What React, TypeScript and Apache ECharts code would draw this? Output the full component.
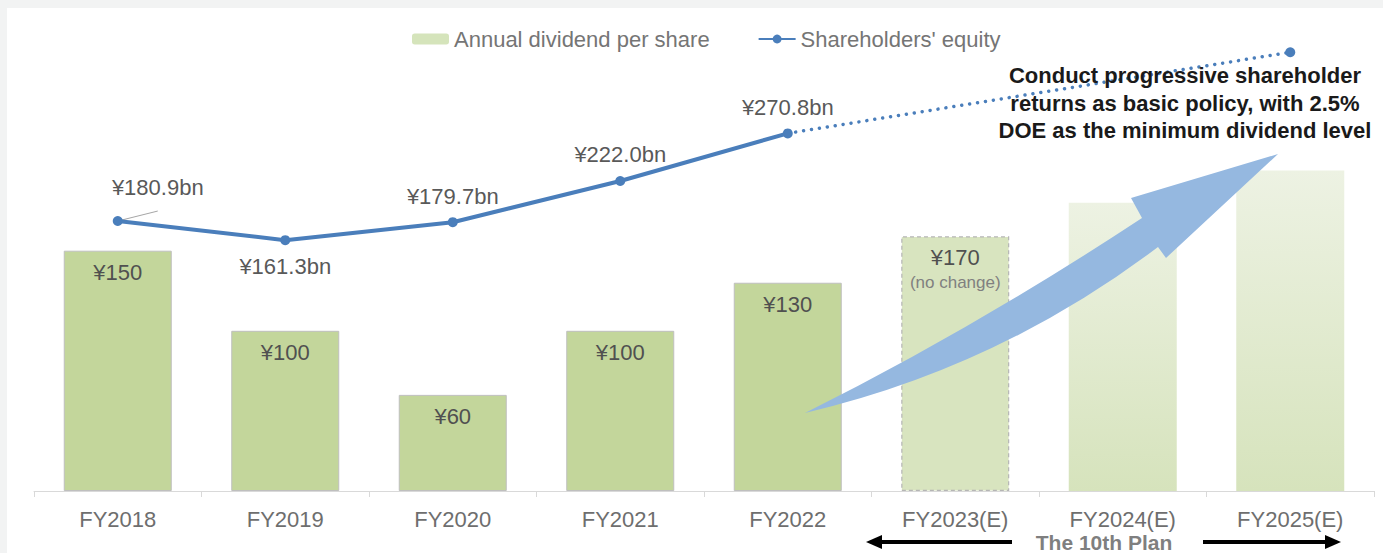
import React, { useEffect, useRef } from "react";
import * as echarts from "echarts";

// ---- data ----
const categories = ["FY2018", "FY2019", "FY2020", "FY2021", "FY2022", "FY2023(E)", "FY2024(E)", "FY2025(E)"];
// annual dividend per share (yen), as labelled
const dividendPerShare = [150, 100, 60, 100, 130, 170];
// bar heights as drawn in the picture (forecast bars are illustrative)
const dividendBarHeights = [150, 100, 60, 100, 130, 159, 180, 200];
// shareholders' equity (billion yen)
const equity = [180.9, 161.3, 179.7, 222.0, 270.8];
const equityLabelPos = ["top", "bottom", "top", "top", "top"];
// dotted target line: from FY2022 actual to FY2025 target point
const equityTarget = [null, null, null, null, 270.8, null, null, 354];

const FONT = '"Liberation Sans", Arial, Helvetica, sans-serif';

const arrowPath =
  "M 805 413 Q 972 330 1142 218 L 1131 198 L 1278 154 L 1166 258 L 1158 247 Q 998 368 805 413 Z";

export default function App() {
  const ref = useRef<HTMLDivElement>(null);

  useEffect(() => {
    if (!ref.current) return;
    echarts.graphic.registerShape("bigArrow", echarts.graphic.extendPath(arrowPath, {}));
    const chart = echarts.init(ref.current, undefined, { renderer: "svg" });

    const barData = dividendBarHeights.map((v, i) => {
      if (i < 5) {
        return {
          value: v,
          itemStyle: { color: "#c3d69b", borderColor: "#bfbfbf", borderWidth: 1 },
          label: { show: true, formatter: "¥" + dividendPerShare[i] },
        };
      }
      if (i === 5) {
        return {
          value: v,
          itemStyle: { color: "#d8e4bf", borderColor: "#b5b5b5", borderWidth: 1.2, borderType: [4, 3] },
          label: {
            show: true,
            distance: 8,
            formatter: "{a|¥" + dividendPerShare[i] + "}\n{b|(no change)}",
            rich: {
              a: { fontSize: 22, color: "#505050", lineHeight: 26, fontFamily: FONT },
              b: { fontSize: 17, color: "#808080", lineHeight: 24, fontFamily: FONT },
            },
          },
        };
      }
      return {
        value: v,
        itemStyle: {
          color: new echarts.graphic.LinearGradient(0, 0, 0, 1, [
            { offset: 0, color: "#edf2e3" },
            { offset: 1, color: "#d6e3bc" },
          ]),
        },
        label: { show: false },
      };
    });

    const lineData = equity.map((v, i) => ({
      value: v,
      label: { position: equityLabelPos[i] },
    }));

    const targetData = equityTarget.map((v, i) =>
      v === null ? null : { value: v, symbol: i === 4 ? "none" : "circle", symbolSize: 10 }
    );

    chart.setOption({
      animation: false,
      textStyle: { fontFamily: FONT },
      grid: { left: 34, right: 9, top: 12, bottom: 62 },
      legend: {
        data: [
          { name: "Annual dividend per share", itemStyle: { color: "#d5e4bb", borderWidth: 0 } },
          { name: "Shareholders' equity" },
        ],
        left: 412,
        top: 28,
        padding: 0,
        itemWidth: 37,
        itemHeight: 11,
        itemGap: 48,
        textStyle: { fontSize: 22, color: "#757575", fontFamily: FONT },
      },
      xAxis: {
        type: "category",
        data: categories,
        axisLine: { lineStyle: { color: "#d9d9d9", width: 1 } },
        axisTick: { show: true, length: 6, lineStyle: { color: "#d9d9d9" } },
        axisLabel: { fontSize: 22, color: "#6e6e6e", margin: 17, fontFamily: FONT },
      },
      yAxis: [
        { type: "value", min: 0, max: 299, show: false, splitLine: { show: false } },
        { type: "value", min: -96, max: 395.3, show: false, splitLine: { show: false } },
      ],
      series: [
        {
          name: "Annual dividend per share",
          type: "bar",
          barWidth: 108,
          itemStyle: { color: "#c3d69b" },
          label: {
            show: true,
            position: "insideTop",
            distance: 11,
            fontSize: 22,
            color: "#505050",
            fontFamily: FONT,
          },
          data: barData,
          z: 2,
        },
        {
          name: "Shareholders' equity",
          type: "line",
          yAxisIndex: 1,
          symbol: "circle",
          symbolSize: 10,
          lineStyle: { color: "#4a7ebb", width: 4 },
          itemStyle: { color: "#4a7ebb" },
          label: {
            show: true,
            distance: 10,
            fontSize: 22,
            color: "#595959",
            fontFamily: FONT,
            formatter: (p: any) => "¥" + Number(p.value).toFixed(1) + "bn",
          },
          labelLayout: (p: any) => (p.dataIndex === 0 ? { dx: 40, dy: -8 } : {}),
          data: lineData,
          z: 5,
        },
        {
          name: "target",
          type: "line",
          yAxisIndex: 1,
          connectNulls: true,
          symbol: "circle",
          symbolSize: 10,
          lineStyle: { color: "#4a7ebb", width: 3.5, type: [0.01, 8], cap: "round" },
          itemStyle: { color: "#4a7ebb" },
          label: { show: false },
          data: targetData,
          z: 4,
        },
      ],
      graphic: [
        {
          id: "bg",
          type: "rect",
          z: -100,
          silent: true,
          shape: { x: 7, y: 8, width: 1376, height: 545 },
          style: { fill: "#ffffff" },
        },
        {
          id: "bigArrow",
          type: "bigArrow",
          x: 0,
          y: 0,
          z: 50,
          silent: true,
          style: { fill: "#95b8e0" },
        },
        {
          id: "note",
          type: "text",
          z: 60,
          x: 1185,
          y: 62,
          style: {
            text:
              "Conduct progressive shareholder\nreturns as basic policy, with 2.5%\nDOE as the minimum dividend level",
            align: "center",
            verticalAlign: "top",
            fontSize: 22,
            fontWeight: "bold",
            fontFamily: FONT,
            lineHeight: 27.5,
            fill: "#1a1a1a",
          },
        },
        {
          id: "arrL",
          type: "line",
          z: 60,
          shape: { x1: 878, y1: 542, x2: 1012, y2: 542 },
          style: { stroke: "#000", lineWidth: 4 },
        },
        {
          id: "arrLHead",
          type: "polygon",
          z: 60,
          shape: { points: [[866, 542], [882, 535], [882, 549]] },
          style: { fill: "#000" },
        },
        {
          id: "arrR",
          type: "line",
          z: 60,
          shape: { x1: 1203, y1: 542, x2: 1328, y2: 542 },
          style: { stroke: "#000", lineWidth: 4 },
        },
        {
          id: "arrRHead",
          type: "polygon",
          z: 60,
          shape: { points: [[1341, 542], [1325, 535], [1325, 549]] },
          style: { fill: "#000" },
        },
        {
          id: "plan",
          type: "text",
          z: 60,
          x: 1104,
          y: 542,
          style: {
            text: "The 10th Plan",
            align: "center",
            verticalAlign: "middle",
            fontSize: 21,
            lineHeight: 21,
            fontWeight: "bold",
            fontFamily: FONT,
            fill: "#7f7f7f",
          },
        },
      ],
    });

    // leader line from the FY2018 equity point towards its moved label
    const p = chart.convertToPixel({ xAxisIndex: 0, yAxisIndex: 1 }, [0, equity[0]]) as number[];
    if (p && isFinite(p[0]) && isFinite(p[1])) {
      chart.setOption({
        graphic: [
          {
            id: "leader",
            type: "line",
            z: 3,
            silent: true,
            shape: { x1: p[0], y1: p[1], x2: p[0] + 40, y2: p[1] - 10 },
            style: { stroke: "#a6a6a6", lineWidth: 1 },
          },
        ],
      });
    }

    return () => chart.dispose();
  }, []);

  return (
    <div
      style={{ position: "fixed", left: 0, top: 0, width: 1383, height: 553, background: "#f2f3f3" }}
    >
      <div ref={ref} style={{ width: 1383, height: 553 }} />
    </div>
  );
}
